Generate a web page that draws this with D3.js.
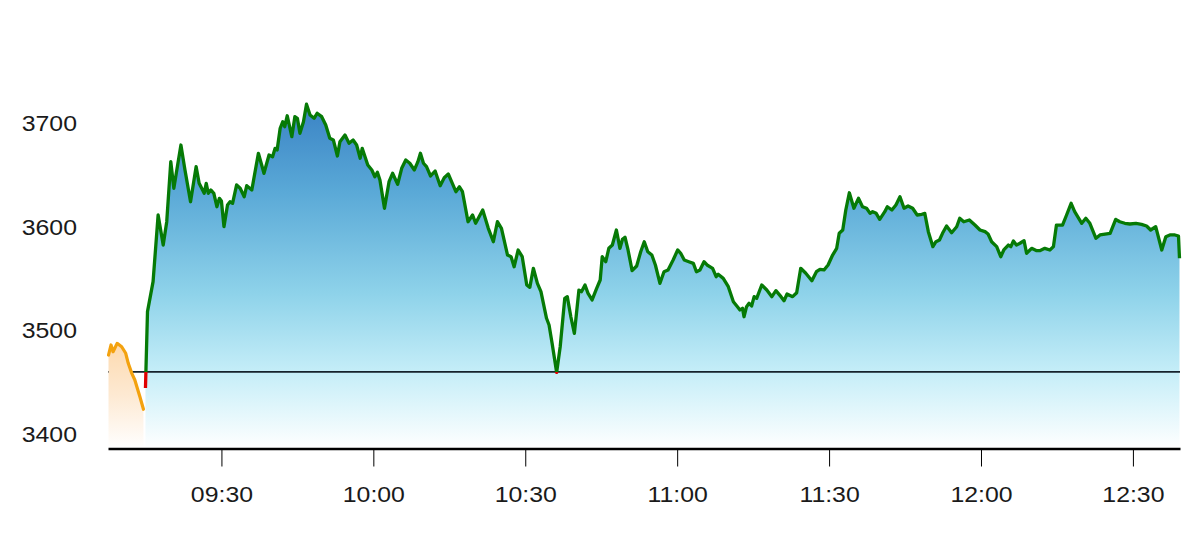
<!DOCTYPE html>
<html>
<head>
<meta charset="utf-8">
<script src="https://cdn.jsdelivr.net/npm/d3@7"></script>
<style>
  html, body { margin: 0; padding: 0; background: #ffffff; }
  svg { display: block; }
  text { font-family: "Liberation Sans", Arial, Helvetica, sans-serif; fill: #1a1a1a; }
</style>
</head>
<body>
<svg id="chart" width="1200" height="540"></svg>
<script>
// ---------- data ----------
const sessionOpen = "09:15";
const prevClose = 3460;
const xTickLabels = ["09:30", "10:00", "10:30", "11:00", "11:30", "12:00", "12:30"];
const yTickValues = [3400, 3500, 3600, 3700];

// pre-open auction (minutes relative to 09:15)
const preMinutes = [-7.3, -6.8, -6.4, -5.6, -4.7, -3.9, -3.4, -2.7, -2.1, -1.7, -1.1, -0.4];
const preValues  = [3476.3, 3486.0, 3479.5, 3487.6, 3484.3, 3478.0, 3468.3, 3458.6, 3452.2, 3445.7, 3436.0, 3423.9];

// regular session (minutes after 09:15)
const sessionMinutes = [
  0, 0.4, 1.5, 2.5, 3.5, 4.2, 5.0, 5.6, 7.0, 7.8, 8.9, 10.0, 10.6, 11.6, 12.0, 12.4, 12.9, 13.5, 14.1, 14.6,
  15.0, 15.5, 16.2, 16.7, 17.2, 18.0, 18.7, 19.5, 20.0, 21.0, 22.3, 23.4, 24.4, 25.1, 25.6, 26.0, 26.6, 27.1, 27.5, 28.0,
  28.9, 29.5, 30.0, 30.5, 31.2, 31.8, 32.5, 33.3, 33.9, 34.8, 35.6, 36.4,
  37.1, 37.9, 38.4, 39.4, 40.2, 41.0, 41.7, 42.4, 42.8, 43.9, 44.7, 45.3, 45.8, 46.3, 47.2, 48.1, 48.8, 49.8, 50.6, 51.4,
  52.2, 53.1, 53.8, 54.3, 54.9, 55.5, 56.3, 57.2, 58.2, 59.0, 59.8, 60.6, 61.3, 62.0, 62.6, 63.7, 64.6, 65.2, 66.6, 67.7,
  68.7, 69.5, 70.3, 71.5, 72.2, 72.8, 73.6,
  74.4, 75.3, 75.9, 76.6, 77.4, 78.1, 79.2, 79.7, 80.3, 81.2, 81.9, 82.8, 83.3, 84.0, 84.7, 85.6, 86.1, 86.8, 87.4, 88.2,
  89.1, 89.8, 90.2, 90.9, 91.5, 92.2, 93.0, 93.7, 94.2, 94.7, 95.3, 96.1, 97.0, 97.8, 98.5, 99.2, 100.0, 100.7, 101.6, 102.4,
  103.2, 104.2, 105.1, 105.7, 106.4, 107.3, 108.2, 108.8, 109.5, 110.3,
  110.9, 112.0, 112.7, 113.1, 114.1, 115.1, 116.1, 116.9, 117.4, 117.9, 118.2, 118.7, 119.2, 119.7, 120.2, 120.7, 121.7, 122.7, 123.7, 124.5,
  125.5, 126.1, 126.7, 127.8, 128.6, 129.4, 130.4, 131.6, 132.5, 133.2, 134.0, 134.8, 135.7, 136.5, 137.0, 137.7, 138.3, 139.0, 139.9, 140.8,
  141.6, 142.4, 143.1, 143.6, 144.3, 145.0, 146.0,
  146.5, 147.4, 148.2, 149.0, 149.8, 150.6, 151.5, 152.4, 153.3, 153.9, 154.6, 155.5, 156.1, 156.8, 157.4, 158.2, 159.2, 160.2, 160.8, 161.6,
  162.7, 163.8, 164.8, 165.8, 166.4, 167.1, 168.1, 168.9, 169.5, 170.4, 170.9, 171.4, 172.0, 172.7, 173.5, 174.0, 175.0, 176.0, 176.6, 177.6,
  178.6, 179.3, 179.9,
  181.1, 181.9, 182.8, 183.5, 184.9, 185.7, 186.5, 187.7, 188.5, 189.5, 190.5, 191.6, 192.4, 193.4, 194.4, 195.6, 196.7, 197.7, 198.5, 199.5,
  200.7, 201.5, 202.3, 203.3, 204.0, 204.2
];
const sessionValues = [
  3444.4, 3518.2, 3547.2, 3611.6, 3582.6, 3605.1, 3663.1, 3637.4, 3679.2, 3655.1, 3624.4, 3658.3, 3642.2, 3632.6, 3642.2, 3632.6, 3635.8, 3632.6, 3619.6, 3627.7,
  3625.1, 3600.3, 3621.3, 3624.4, 3622.9, 3640.6, 3637.4, 3629.3, 3639.9, 3635.8, 3671.2, 3651.9, 3669.6, 3667.9, 3676.0, 3674.4, 3695.4, 3701.7, 3696.9, 3707.5,
  3687.3, 3706.6, 3705.0, 3690.5, 3701.7, 3718.6, 3708.2, 3705.0, 3709.9, 3706.6, 3698.6, 3685.7,
  3684.1, 3668.6, 3682.4, 3688.9, 3680.9, 3684.1, 3679.2, 3666.4, 3676.0, 3659.9, 3655.1, 3648.6, 3652.9, 3645.4, 3618.1, 3643.8, 3651.9, 3641.3, 3656.7, 3664.7,
  3661.6, 3655.1, 3663.1, 3671.2, 3661.6, 3658.3, 3649.3, 3654.1, 3639.9, 3647.6, 3651.2, 3642.2, 3634.1, 3638.9, 3634.1, 3605.1, 3611.6, 3603.6, 3616.4, 3598.7,
  3585.8, 3605.1, 3598.7, 3572.9, 3571.3, 3561.6, 3577.8,
  3571.3, 3544.0, 3541.7, 3560.1, 3545.6, 3537.5, 3511.8, 3505.3, 3487.6, 3459.5, 3484.3, 3531.1, 3532.7, 3513.3, 3497.3, 3539.1, 3537.5, 3544.0, 3535.9, 3529.5,
  3540.8, 3548.8, 3571.3, 3566.5, 3579.4, 3582.6, 3597.1, 3579.4, 3588.1, 3590.1, 3577.8, 3557.8, 3562.3, 3576.1, 3585.8, 3576.1, 3572.9, 3563.3, 3545.6, 3556.8,
  3558.5, 3568.1, 3577.8, 3574.6, 3568.1, 3566.5, 3564.9, 3556.8, 3558.5, 3566.5,
  3563.3, 3560.1, 3552.0, 3554.3, 3550.4, 3542.3, 3527.8, 3523.0, 3519.8, 3521.5, 3513.3, 3523.0, 3526.3, 3523.7, 3532.7, 3531.1, 3544.0, 3539.1, 3532.7, 3538.5,
  3532.7, 3528.8, 3535.3, 3532.7, 3536.5, 3560.1, 3555.3, 3548.1, 3556.8, 3559.1, 3558.5, 3563.3, 3572.9, 3579.4, 3593.9, 3597.1, 3616.4, 3633.1, 3618.1, 3627.7,
  3619.6, 3618.1, 3613.2, 3614.8, 3613.2, 3607.4, 3614.8,
  3619.6, 3616.4, 3621.3, 3629.3, 3618.1, 3620.3, 3618.1, 3611.6, 3612.3, 3613.2, 3595.5, 3581.0, 3585.8, 3587.4, 3593.9, 3601.0, 3594.5, 3600.3, 3608.4, 3605.1,
  3606.8, 3601.9, 3597.1, 3595.5, 3593.2, 3585.8, 3581.0, 3571.3, 3577.8, 3582.6, 3581.0, 3586.5, 3582.6, 3584.3, 3586.8, 3574.6, 3579.4, 3577.1, 3577.1, 3579.4,
  3577.8, 3581.0, 3601.9,
  3601.9, 3611.6, 3622.9, 3614.8, 3603.6, 3608.4, 3603.6, 3589.1, 3592.3, 3593.2, 3593.9, 3607.4, 3605.1, 3603.6, 3602.9, 3603.6, 3602.6, 3601.0, 3597.1, 3600.3,
  3577.8, 3590.6, 3592.3, 3592.3, 3591.3, 3569.8
];

// ---------- helpers ----------
const day = [2024, 0, 2];
function hm(str) { const [h, m] = str.split(":").map(Number); return new Date(day[0], day[1], day[2], h, m, 0); }
const openDate = hm(sessionOpen);
const fromOpen = m => new Date(openDate.getTime() + m * 60000);

const pre = preMinutes.map((m, i) => ({ t: fromOpen(m), v: preValues[i] }));
const sess = sessionMinutes.map((m, i) => ({ t: fromOpen(m), v: sessionValues[i] }));

// ---------- layout ----------
const svg = d3.select("#chart");
const plot = { left: 108, right: 1180, top: 102.8, bottom: 448.5 };

const x = d3.scaleTime()
  .domain([fromOpen(-7.4), fromOpen(204.3)])
  .range([plot.left, plot.right]);
const y = d3.scaleLinear()
  .domain([3386, 3720])
  .range([plot.bottom, plot.top]);

const defs = svg.append("defs");
const blueGrad = defs.append("linearGradient")
  .attr("id", "blueGrad").attr("gradientUnits", "userSpaceOnUse")
  .attr("x1", 0).attr("x2", 0).attr("y1", y(3716)).attr("y2", plot.bottom);
[[0, "#3b84c5"], [0.25, "#5aa9d7"], [0.55, "#8fd3ea"], [0.78, "#c6eef8"], [1, "#ffffff"]]
  .forEach(([o, c]) => blueGrad.append("stop").attr("offset", o).attr("stop-color", c));

const orangeGrad = defs.append("linearGradient")
  .attr("id", "orangeGrad").attr("gradientUnits", "userSpaceOnUse")
  .attr("x1", 0).attr("x2", 0).attr("y1", y(3490)).attr("y2", plot.bottom);
[[0, "#fdd9ad"], [0.5, "#fde9d2"], [1, "#ffffff"]]
  .forEach(([o, c]) => orangeGrad.append("stop").attr("offset", o).attr("stop-color", c));

const yRef = y(prevClose);
defs.append("clipPath").attr("id", "above")
  .append("rect").attr("x", 0).attr("y", 0).attr("width", 1200).attr("height", yRef);
defs.append("clipPath").attr("id", "below")
  .append("rect").attr("x", 0).attr("y", yRef).attr("width", 1200).attr("height", 540 - yRef);

const area = d3.area().x(d => x(d.t)).y0(plot.bottom).y1(d => y(d.v));
const line = d3.line().x(d => x(d.t)).y(d => y(d.v));

// session area
svg.append("path").datum(sess).attr("d", area).attr("fill", "url(#blueGrad)");

// previous close reference line
svg.append("line")
  .attr("x1", plot.left).attr("x2", plot.right)
  .attr("y1", yRef).attr("y2", yRef)
  .attr("stroke", "#15222c").attr("stroke-width", 1.6);

// pre-open area + line
svg.append("path").datum(pre).attr("d", area).attr("fill", "url(#orangeGrad)");
svg.append("path").datum(pre).attr("d", line)
  .attr("fill", "none").attr("stroke", "#f3a20f").attr("stroke-width", 3.2)
  .attr("stroke-linejoin", "round").attr("stroke-linecap", "round");

// session line: green above previous close, red below
svg.append("path").datum(sess).attr("d", line)
  .attr("clip-path", "url(#above)")
  .attr("fill", "none").attr("stroke", "#067a06").attr("stroke-width", 3.3)
  .attr("stroke-linejoin", "round");
svg.append("path").datum(sess).attr("d", line)
  .attr("clip-path", "url(#below)")
  .attr("fill", "none").attr("stroke", "#e00000").attr("stroke-width", 3.3)
  .attr("stroke-linejoin", "round");

// x axis
const xAxis = d3.axisBottom(x)
  .tickValues(xTickLabels.map(hm))
  .tickFormat(d3.timeFormat("%H:%M"))
  .tickSize(18).tickSizeOuter(0).tickPadding(20);
const gx = svg.append("g").attr("transform", `translate(0,${plot.bottom})`).call(xAxis);
gx.select(".domain").attr("stroke", "#000").attr("stroke-width", 2.5);
gx.selectAll(".tick line").attr("stroke", "#000").attr("stroke-width", 1);
gx.selectAll(".tick text")
  .attr("font-size", 22).attr("fill", "#1a1a1a")
  .attr("transform", "scale(1.13,1)");

// y axis labels
const yAxis = d3.axisLeft(y).tickValues(yTickValues).tickSize(0).tickPadding(0).tickFormat(d3.format("d"));
const gy = svg.append("g").attr("transform", "translate(77,0)").call(yAxis);
gy.select(".domain").remove();
gy.selectAll(".tick text")
  .attr("font-size", 22).attr("fill", "#1a1a1a")
  .attr("transform", "scale(1.13,1)");
</script>
</body>
</html>
